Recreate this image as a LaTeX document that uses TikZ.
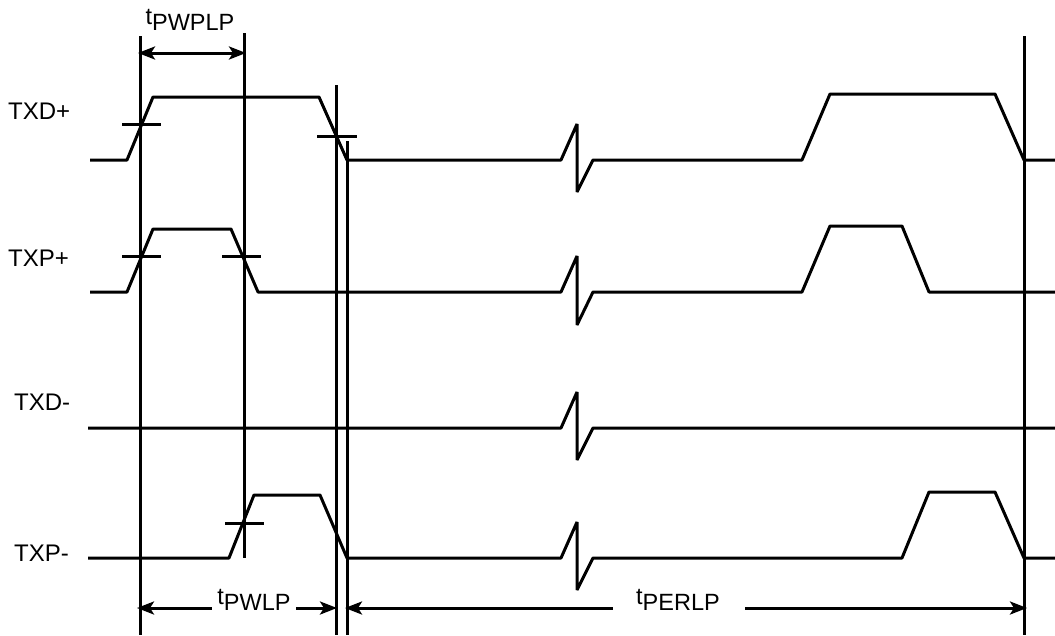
\documentclass[tikz,border=0pt]{standalone}
\usepackage{fontspec}
\setmainfont{Liberation Sans}
\usetikzlibrary{arrows.meta}
\tikzset{
    signal/.style={line width=3pt, line join=bevel},
    tick/.style={line width=3pt},
    marker/.style={line width=3pt},
    dim/.style={line width=3pt, {Stealth[length=17pt,width=13pt,inset=4pt]}-{Stealth[length=17pt,width=13pt,inset=4pt]}},
    dimleft/.style={line width=3pt, {Stealth[length=17pt,width=13pt,inset=4pt]}-},
    dimright/.style={line width=3pt, -{Stealth[length=17pt,width=13pt,inset=4pt]}},
    lbl/.style={font=\fontsize{24}{28}\selectfont, inner sep=0pt, anchor=west},
    timelbl/.style={font=\fontsize{23.5}{28}\selectfont, inner sep=0pt, anchor=base}
}
\newcommand{\tlabel}[1]{t\raisebox{-6pt}{#1}}
\begin{document}
\begin{tikzpicture}[x=1pt, y=-1pt]
    \useasboundingbox (0,0) rectangle (1055,635);
    % signal names
    \node[lbl] (txdp) at (8,111) {TXD+};
    \node[lbl] (txpp) at (8,258) {TXP+};
    \node[lbl] (txdm) at (14,402) {TXD-};
    \node[lbl] (txpm) at (14,553) {TXP-};
    % vertical markers
    \foreach \x/\a/\b in {140/36/635, 244/33/558, 336/85/635, 347/141/635, 1024/36/635} {
        \draw[marker] (\x,\a) -- (\x,\b);
    }
    % waveforms
    \draw[signal] (90,160) -- (127,160) -- (153,97) -- (319,97) -- (347,160) -- (561,160) -- (577,124) -- (577,192) -- (593,160) -- (802,160) -- (830,94) -- (995,94) -- (1024,160) -- (1055,160);
    \draw[signal] (90,292) -- (127,292) -- (153,229) -- (231,229) -- (258,292) -- (561,292) -- (577,256) -- (577,325) -- (593,292) -- (802,292) -- (830,226) -- (902,226) -- (929,292) -- (1055,292);
    \draw[signal] (88,428) -- (561,428) -- (577,392) -- (577,460) -- (593,428) -- (1055,428);
    \draw[signal] (88,558) -- (229,558) -- (254,495) -- (320,495) -- (347,558) -- (561,558) -- (577,522) -- (577,590) -- (593,558) -- (902,558) -- (929,492) -- (995,492) -- (1024,558) -- (1055,558);
    % threshold ticks
    \foreach \a/\b/\y in {122/161/124, 317/357/136, 122/161/256, 222/261/256, 225/264/523} {
        \draw[tick] (\a,\y) -- (\b,\y);
    }
    % timing arrows
    \draw[dim] (138,53) -- (246,53);
    \draw[dimleft] (137,608) -- (212,608);
    \draw[dimright] (296,608) -- (337,608);
    \draw[dimleft] (345,608) -- (613,608);
    \draw[dimright] (745,608) -- (1027,608);
    \node[timelbl] (tpwplp) at (190,24) {\tlabel{PWPLP}};
    \node[timelbl] (tpwlp) at (254,604) {\tlabel{PWLP}};
    \node[timelbl] (tperlp) at (678,604) {\tlabel{PERLP}};
\end{tikzpicture}
\end{document}
